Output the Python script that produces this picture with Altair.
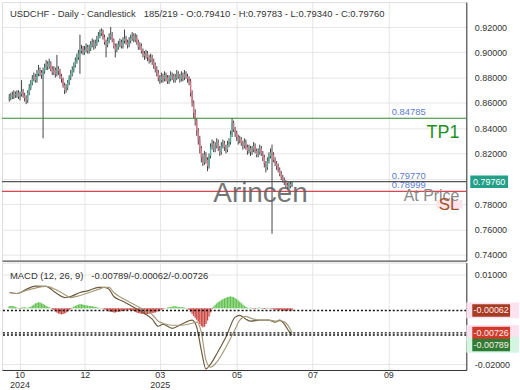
import altair as alt
import pandas as pd

# ---------------- data ----------------
open_first = 0.863
close = [0.864, 0.866, 0.865, 0.867, 0.866, 0.868, 0.865, 0.867, 0.869, 0.866,
         0.864, 0.862, 0.868, 0.872, 0.876, 0.879, 0.881, 0.878, 0.883, 0.886,
         0.884, 0.882, 0.885, 0.888, 0.891, 0.889, 0.892, 0.887, 0.884, 0.886,
         0.883, 0.887, 0.885, 0.881, 0.879, 0.874, 0.870, 0.872, 0.876, 0.880,
         0.883, 0.886, 0.890, 0.893, 0.896, 0.899, 0.901, 0.903, 0.900, 0.902,
         0.904, 0.901, 0.903, 0.906, 0.908, 0.905, 0.907, 0.910, 0.913, 0.915,
         0.917, 0.912, 0.908, 0.906, 0.909, 0.912, 0.914, 0.910, 0.905, 0.902,
         0.904, 0.906, 0.908, 0.905, 0.909, 0.911, 0.908, 0.906, 0.909, 0.911,
         0.913, 0.910, 0.912, 0.908, 0.904, 0.905, 0.901, 0.899, 0.897, 0.899,
         0.896, 0.894, 0.896, 0.893, 0.890, 0.887, 0.884, 0.880, 0.878, 0.881,
         0.879, 0.882, 0.880, 0.877, 0.879, 0.882, 0.881, 0.878, 0.880, 0.883,
         0.881, 0.879, 0.882, 0.880, 0.883, 0.881, 0.879, 0.877, 0.868, 0.860,
         0.852, 0.846, 0.838, 0.831, 0.824, 0.817, 0.813, 0.819, 0.815, 0.810,
         0.818, 0.825, 0.828, 0.823, 0.826, 0.829, 0.824, 0.821, 0.826, 0.828,
         0.825, 0.823, 0.827, 0.829, 0.835, 0.844, 0.839, 0.836, 0.833, 0.830,
         0.831, 0.828, 0.826, 0.829, 0.825, 0.822, 0.824, 0.821, 0.823, 0.826,
         0.822, 0.819, 0.821, 0.824, 0.820, 0.817, 0.812, 0.809, 0.814, 0.818,
         0.821, 0.819, 0.815, 0.812, 0.810, 0.807, 0.804, 0.801, 0.799, 0.797,
         0.795, 0.7935, 0.796, 0.7941, 0.7976]
high = [0.867, 0.868, 0.869, 0.870, 0.869, 0.870, 0.870, 0.869, 0.878, 0.871,
        0.868, 0.866, 0.870, 0.875, 0.878, 0.882, 0.884, 0.883, 0.886, 0.890,
        0.888, 0.886, 0.888, 0.891, 0.894, 0.893, 0.895, 0.893, 0.889, 0.889,
        0.888, 0.898, 0.889, 0.887, 0.883, 0.880, 0.876, 0.875, 0.878, 0.882,
        0.886, 0.889, 0.892, 0.896, 0.899, 0.902, 0.914, 0.906, 0.905, 0.905,
        0.907, 0.906, 0.906, 0.909, 0.911, 0.910, 0.910, 0.913, 0.916, 0.918,
        0.919, 0.918, 0.914, 0.910, 0.912, 0.915, 0.920, 0.916, 0.911, 0.907,
        0.907, 0.909, 0.911, 0.910, 0.912, 0.918, 0.913, 0.910, 0.912, 0.914,
        0.916, 0.915, 0.915, 0.914, 0.910, 0.908, 0.907, 0.903, 0.901, 0.902,
        0.901, 0.898, 0.899, 0.898, 0.895, 0.892, 0.889, 0.886, 0.882, 0.884,
        0.883, 0.885, 0.884, 0.882, 0.882, 0.885, 0.884, 0.883, 0.883, 0.886,
        0.885, 0.883, 0.885, 0.884, 0.886, 0.885, 0.883, 0.881, 0.879, 0.870,
        0.862, 0.855, 0.848, 0.840, 0.834, 0.826, 0.820, 0.822, 0.821, 0.817,
        0.820, 0.828, 0.831, 0.830, 0.829, 0.832, 0.831, 0.826, 0.829, 0.831,
        0.830, 0.827, 0.830, 0.832, 0.838, 0.848, 0.846, 0.841, 0.838, 0.835,
        0.834, 0.833, 0.830, 0.832, 0.831, 0.827, 0.827, 0.826, 0.826, 0.829,
        0.828, 0.824, 0.824, 0.827, 0.826, 0.822, 0.819, 0.814, 0.817, 0.821,
        0.824, 0.827, 0.821, 0.817, 0.814, 0.812, 0.809, 0.806, 0.803, 0.801,
        0.799, 0.797, 0.798, 0.798, 0.79783]
low = [0.861, 0.862, 0.863, 0.863, 0.864, 0.864, 0.863, 0.862, 0.865, 0.864,
       0.861, 0.859, 0.860, 0.866, 0.870, 0.874, 0.877, 0.876, 0.876, 0.881,
       0.881, 0.879, 0.832, 0.883, 0.886, 0.886, 0.887, 0.885, 0.882, 0.882,
       0.880, 0.881, 0.882, 0.879, 0.876, 0.872, 0.867, 0.868, 0.870, 0.874,
       0.878, 0.881, 0.884, 0.888, 0.891, 0.894, 0.883, 0.899, 0.898, 0.898,
       0.900, 0.899, 0.899, 0.901, 0.904, 0.902, 0.903, 0.905, 0.908, 0.911,
       0.913, 0.910, 0.906, 0.896, 0.904, 0.907, 0.910, 0.908, 0.903, 0.896,
       0.900, 0.902, 0.904, 0.903, 0.903, 0.907, 0.906, 0.903, 0.904, 0.907,
       0.909, 0.908, 0.908, 0.906, 0.902, 0.902, 0.899, 0.896, 0.894, 0.895,
       0.893, 0.891, 0.892, 0.890, 0.887, 0.884, 0.881, 0.877, 0.875, 0.876,
       0.876, 0.877, 0.877, 0.875, 0.875, 0.877, 0.878, 0.876, 0.876, 0.878,
       0.879, 0.876, 0.877, 0.877, 0.878, 0.879, 0.876, 0.874, 0.865, 0.857,
       0.848, 0.842, 0.834, 0.827, 0.820, 0.813, 0.810, 0.811, 0.812, 0.806,
       0.808, 0.816, 0.823, 0.821, 0.821, 0.824, 0.822, 0.818, 0.819, 0.824,
       0.822, 0.820, 0.821, 0.825, 0.827, 0.833, 0.837, 0.833, 0.830, 0.827,
       0.828, 0.826, 0.823, 0.824, 0.823, 0.819, 0.820, 0.818, 0.819, 0.821,
       0.820, 0.817, 0.817, 0.819, 0.818, 0.814, 0.809, 0.805, 0.807, 0.812,
       0.816, 0.7565, 0.813, 0.810, 0.807, 0.805, 0.802, 0.799, 0.797, 0.795,
       0.793, 0.7915, 0.792, 0.7925, 0.7934]

macd_idx = [1, 6, 12, 18, 25, 31, 37, 41, 47, 53,
            59, 63, 66, 69, 75, 82, 88, 94, 98, 101,
            107, 113, 120, 123, 126, 129, 132, 136, 142, 148,
            151, 155, 158, 164, 170, 174, 177, 180, 183, 185]
macd_line = [0.0047, 0.0044, 0.0056, 0.0066, 0.0065, 0.0047, 0.0032, 0.0035, 0.0047, 0.0053,
             0.0062, 0.0062, 0.0056, 0.0035, 0.0021, 0.0003, -0.0012, -0.0032, -0.0053, -0.0047,
             -0.0059, -0.0047, -0.0035, -0.0056, -0.0124, -0.0179, -0.0165, -0.0135, -0.0085, -0.0026,
             -0.0021, -0.0032, -0.0038, -0.0035, -0.0035, -0.0041, -0.0035, -0.0047, -0.0068, -0.00789]
signal_line = [0.0047, 0.0044, 0.0053, 0.0060, 0.0065, 0.0056, 0.0041, 0.0032, 0.0038, 0.0047,
               0.0056, 0.0062, 0.0062, 0.0047, 0.0029, 0.0012, -0.0003, -0.0018, -0.0038, -0.0044,
               -0.0050, -0.0050, -0.0044, -0.0041, -0.0071, -0.0153, -0.0174, -0.0159, -0.0115, -0.0062,
               -0.0035, -0.0024, -0.0029, -0.0035, -0.0035, -0.0038, -0.0037, -0.0040, -0.0055, -0.00726]
hist = [0.0006, 0.0007, 0.0007, 0.0006, 0.0004, 0.0002,
        0.0001, -0.0001,
        0.0002, 0.0003, 0.0003, 0.0002, 0.0001, 0.0003,
        0.0005, 0.0008, 0.0011, 0.0014, 0.0016, 0.0018, 0.0017, 0.0015, 0.0013, 0.0010, 0.0007, 0.0005, 0.0003, 0.0001,
        -0.0002, -0.0005,
        -0.0009, -0.0012, -0.0015, -0.0017, -0.0018, -0.0017, -0.0015, -0.0012, -0.0009, -0.0005, -0.0002,
        0.0002, 0.0005, 0.0007, 0.0009, 0.0011, 0.0012, 0.0012, 0.0011, 0.0010, 0.0009, 0.0008, 0.0007, 0.0007,
        0.0006, 0.0005, 0.0004, 0.0003, 0.0002, 0.0001,
        0.0001, -0.0001,
        -0.0003, -0.0005, -0.0007, -0.0009, -0.0010, -0.0011, -0.0012, -0.0012, -0.0011, -0.0010, -0.0009,
        -0.0008, -0.0008, -0.0007, -0.0006, -0.0006, -0.0005, -0.0005, -0.0006, -0.0008, -0.0010, -0.0012,
        -0.0014, -0.0015, -0.0016,
        -0.0017, -0.0018, -0.0018, -0.0017, -0.0016, -0.0015, -0.0014, -0.0013, -0.0012, -0.0010, -0.0008,
        -0.0006, -0.0004, -0.0002,
        -0.0001, 0.0001, 0.0002, 0.0003, 0.0004,
        0.0005, 0.0006, 0.0006, 0.0005, 0.0004, 0.0004, 0.0003, 0.0003, 0.0002, 0.0001, 0.0001,
        -0.0004, -0.0010, -0.0016, -0.0022, -0.0028, -0.0034, -0.0040, -0.0046, -0.0052, -0.0056, -0.0054,
        -0.0046, -0.0036, -0.0024, -0.0012, -0.0002,
        0.0005, 0.0010, 0.0014, 0.0018, 0.0021, 0.0024, 0.0027, 0.0029, 0.0031, 0.0033, 0.0034, 0.0035,
        0.0034, 0.0033, 0.0030, 0.0027, 0.0023, 0.0019, 0.0015, 0.0011, 0.0007, 0.0004, 0.0002,
        0.0001, 0.0002, 0.0001, -0.0001, -0.0002, 0.0001, 0.0002, 0.0002, 0.0001, -0.0001, -0.0002,
        -0.0001, 0.0001, 0.0001,
        -0.0001, -0.0002, -0.0003, -0.0004, -0.0004, -0.0005, -0.0005, -0.0006, -0.0006, -0.0007,
        -0.0007, -0.0007, -0.0006, -0.0006, -0.00062]

tick_pos = [7.7, 50.2, 98.9, 148.9, 198.3, 247.7]
tick_month = ["10", "12", "03", "05", "07", "09"]
tick_year = ["2024", "", "2025", "", "", ""]
price_ticks = [0.74, 0.76, 0.78, 0.80, 0.82, 0.84, 0.86, 0.88, 0.90, 0.92]
macd_ticks = [0.01, -0.0165]
macd_tick_labels = ["0.01000", "-0.02000"]

level_vals = [0.84785, 0.79770, 0.78999]
level_text = ["0.84785", "0.79770", "0.78999"]
level_cols = ["#2e8b2e", "#555555", "#d9464f"]
last_close = 0.79760
macd_last = [-0.00789, -0.00062, -0.00726]

title_txt = "USDCHF - Daily - Candlestick\u00a0\u00a0\u00a0185/219 - O:0.79410 - H:0.79783 - L:0.79340 - C:0.79760"
macd_txt = "MACD (12, 26, 9)\u00a0\u00a0\u00a0-0.00789/-0.00062/-0.00726"

# ---------------- tables ----------------
n = len(close)
idx = list(range(1, n + 1))
opens = [open_first] + close[:-1]
candles = pd.DataFrame({"i": idx, "open": opens, "close": close, "high": high, "low": low})
hist_df = pd.DataFrame({"i": idx, "h": hist})
lines_df = pd.concat([
    pd.DataFrame({"i": macd_idx, "v": macd_line, "s": "MACD", "c": "#6e5c3e"}),
    pd.DataFrame({"i": macd_idx, "v": signal_line, "s": "Signal", "c": "#a59c7c"}),
])
levels_df = pd.DataFrame({"level": level_vals, "lab": level_text, "col": level_cols})

# ---------------- scales / axes ----------------
W, H1, H2 = 467, 260, 108
FONT = "Liberation Sans"
GRID = "#e6e6e6"
xscale = alt.Scale(domain=[-0.5, 295.2], nice=False, zero=False)
yscale = alt.Scale(domain=[0.73525, 0.9397], nice=False, zero=False)
mscale = alt.Scale(domain=[-0.01824, 0.01353], nice=False, zero=False)

parts = []
for p, m, yr in zip(tick_pos, tick_month, tick_year):
    lab = f"['{m}','{yr}']" if yr else f"'{m}'"
    parts.append(f"abs(datum.value - {p}) < 1 ? {lab} : ")
x_label_expr = "".join(parts) + "''"
m_label_expr = "".join(
    f"abs(datum.value - ({v})) < 0.0005 ? '{t}' : " for v, t in zip(macd_ticks, macd_tick_labels)
) + "''"

x_axis_top = alt.Axis(values=tick_pos, labels=False, ticks=False, grid=True, gridColor=GRID,
                      domainColor="#333333", title=None)
x_axis_bot = alt.Axis(values=tick_pos, labelExpr=x_label_expr, ticks=False, grid=True,
                      gridColor=GRID, domainColor="#333333", labelFontSize=9, labelColor="#333333",
                      labelPadding=1, labelLineHeight=10, labelFlush=False, labelOverlap=False,
                      labelFont=FONT, title=None)
y_axis = alt.Axis(orient="right", values=price_ticks, format=".5f", ticks=False, labelPadding=8,
                  labelFontSize=9, labelColor="#333333", grid=True, gridColor=GRID,
                  domainColor="#333333", labelFont=FONT, title=None)
m_axis = alt.Axis(orient="right", values=macd_ticks, labelExpr=m_label_expr, ticks=False,
                  labelPadding=8, labelFontSize=9, labelColor="#333333", grid=True, gridColor=GRID,
                  domainColor="#333333", labelFont=FONT, title=None)


def X(axis):
    return alt.X("i:Q", scale=xscale, axis=axis)


def Y(field):
    return alt.Y(field, type="quantitative", scale=yscale, axis=y_axis)


def MY(field):
    return alt.Y(field, type="quantitative", scale=mscale, axis=m_axis)


def one(**kw):
    return alt.Chart(pd.DataFrame([kw]))


BOX = "M-1,-0.33L1,-0.33L1,0.33L-1,0.33Z"

# ---------------- main panel ----------------
wicks = alt.Chart(candles).mark_rule(color="#444444", strokeWidth=1).encode(
    x=X(x_axis_top), y=Y("low"), y2="high:Q")
bodies = alt.Chart(candles).mark_bar(width=1.4).encode(
    x=X(x_axis_top), y=Y("open"), y2="close:Q",
    color=alt.condition("datum.close >= datum.open", alt.value("#4fb09c"), alt.value("#e27186")))
lvl_rules = alt.Chart(levels_df).mark_rule(strokeWidth=1.2).encode(
    y=Y("level"), color=alt.Color("col:N", scale=None))
lvl_labels = alt.Chart(levels_df).mark_text(
    align="left", baseline="bottom", dy=-1, fontSize=9.5, font=FONT, color="#5b7bd0").encode(
    x=alt.value(392), y=Y("level"), text="lab:N")
tp_txt = one(level=level_vals[0], t="TP1").mark_text(
    align="right", baseline="alphabetic", dy=20, fontSize=18, font=FONT, color="#1f8f1f").encode(
    x=alt.value(460), y=Y("level"), text="t:N")
sl_halo = one(level=level_vals[2]).mark_point(
    shape=BOX, size=26 * 26, filled=True, color="#fde3ea", opacity=1, yOffset=13).encode(
    x=alt.value(450), y=Y("level"))
at_txt = one(level=level_vals[2], t="At Price").mark_text(
    align="right", baseline="alphabetic", dy=10, fontSize=16, font=FONT, color="#8a8a8a").encode(
    x=alt.value(460), y=Y("level"), text="t:N")
sl_txt = one(level=level_vals[2], t="SL").mark_text(
    align="right", baseline="alphabetic", dy=19, fontSize=17, font=FONT, color="#a0522d").encode(
    x=alt.value(460), y=Y("level"), text="t:N")
watermark = one(t="Arincen").mark_text(
    align="center", baseline="middle", fontSize=28, font=FONT, color="#5e5e5e", opacity=0.85).encode(
    x=alt.value(260), y=alt.value(193), text="t:N")
title = one(t=title_txt).mark_text(
    align="left", baseline="middle", fontSize=9.5, font=FONT, color="#333333").encode(
    x=alt.value(8), y=alt.value(12), text="t:N")
px_box = one(level=last_close).mark_point(
    shape=BOX, size=38 * 38, filled=True, color="#24a089", opacity=1).encode(
    x=alt.value(490), y=Y("level"))
px_txt = one(level=last_close, t="0.79760").mark_text(
    align="center", baseline="middle", fontSize=9, font=FONT, color="white").encode(
    x=alt.value(490), y=Y("level"), text="t:N")

main = alt.layer(wicks, bodies, lvl_rules, lvl_labels, tp_txt, sl_halo, at_txt, sl_txt,
                 watermark, title, px_box, px_txt).properties(width=W, height=H1)

# ---------------- MACD panel ----------------
h_halo = alt.Chart(hist_df).mark_bar(width=3.2).encode(
    x=X(x_axis_bot), y=MY("h"), y2=alt.datum(0),
    color=alt.condition("datum.h >= 0", alt.value("#d3f4da"), alt.value("#fcdbe6")))
h_bars = alt.Chart(hist_df).mark_bar(width=1.2).encode(
    x=X(x_axis_bot), y=MY("h"), y2=alt.datum(0),
    color=alt.condition("datum.h >= 0", alt.value("#62bf4c"), alt.value("#c8453a")))
m_lines = alt.Chart(lines_df).mark_line(strokeWidth=1.2, interpolate="monotone").encode(
    x=X(x_axis_bot), y=MY("v"), detail="s:N", color=alt.Color("c:N", scale=None))
dots = alt.Chart(pd.DataFrame({"v": macd_last})).mark_rule(
    strokeDash=[2, 2], strokeWidth=1.4, color="#111111").encode(y=MY("v"))
m_title = one(t=macd_txt).mark_text(
    align="left", baseline="middle", fontSize=9.5, font=FONT, color="#333333").encode(
    x=alt.value(8), y=alt.value(13), text="t:N")

box_layers = []
box_specs = [  # value, box colour, halo colour, vertical offset
    (macd_last[1], "#a83b24", "#fce2ee", 0),
    (macd_last[2], "#cf3b2b", "#fce2ee", 0),
    (macd_last[0], "#2f7d32", "#d5f5e3", 10),
]
for v, bc, hc, off in box_specs:
    d = one(v=v, t=f"{v:.5f}")
    box_layers.append(d.mark_point(shape="M-1,-0.3L1,-0.3L1,0.3L-1,0.3Z", size=53 * 53, filled=True,
                                   color=hc, opacity=1, yOffset=off).encode(x=alt.value(493.5), y=MY("v")))
for v, bc, hc, off in box_specs:
    d = one(v=v, t=f"{v:.5f}")
    box_layers.append(d.mark_point(shape=BOX, size=38 * 38, filled=True, color=bc, opacity=1,
                                   yOffset=off).encode(x=alt.value(492), y=MY("v")))
    box_layers.append(d.mark_text(align="center", baseline="middle", fontSize=9, font=FONT,
                                  color="#ffecec", yOffset=off).encode(
        x=alt.value(492), y=MY("v"), text="t:N"))

macd = alt.layer(h_halo, h_bars, m_lines, dots, m_title, *box_layers).properties(width=W, height=H2)

chart = alt.vconcat(main, macd, spacing=0).properties(
    padding={"left": 0, "top": 0, "right": 0, "bottom": 0}
).configure_view(stroke=None).configure(font=FONT)

chart.save("out.html", embed_options={"renderer": "svg", "actions": False})
